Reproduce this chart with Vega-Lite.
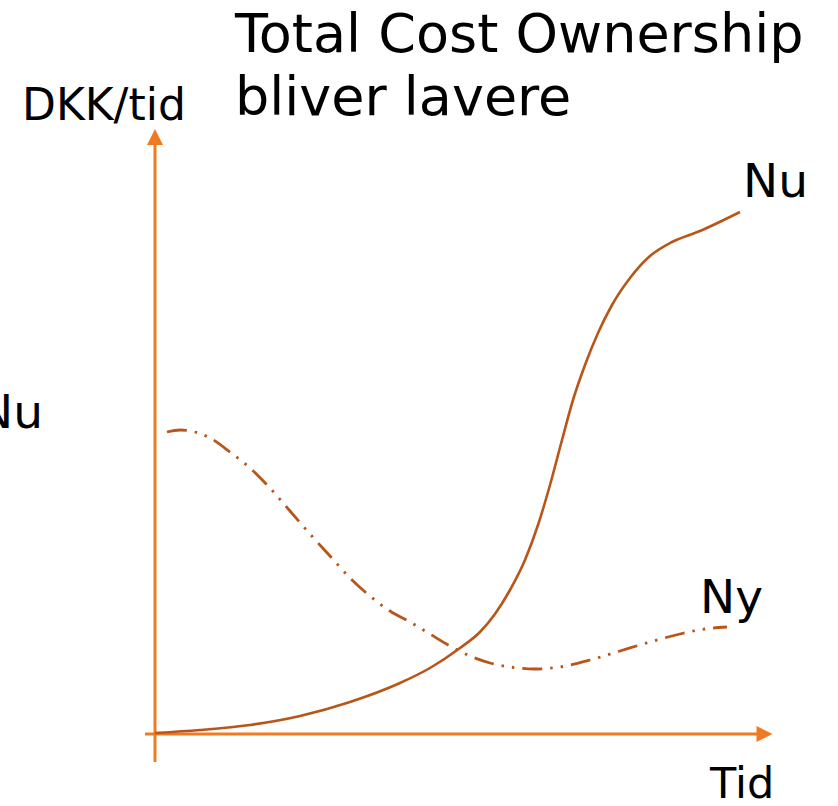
{
  "$schema": "https://vega.github.io/schema/vega-lite/v6.json",
  "width": 838,
  "height": 806,
  "padding": 0,
  "autosize": {"type": "none"},
  "background": "white",
  "config": {"view": {"stroke": null}, "axis": {"disable": true}},
  "datasets": {
    "axes": [
      {"x": 155, "y": 44, "x2": 155, "y2": 664},
      {"x": 145, "y": 72, "x2": 760, "y2": 72}
    ],
    "arrows": [
      {"x": 155, "y": 669, "dir": "up"},
      {"x": 764.5, "y": 72, "dir": "right"}
    ],
    "nu": [
      {"t": 155, "c": 73}, {"t": 200, "c": 76}, {"t": 250, "c": 81}, {"t": 300, "c": 90},
      {"t": 350, "c": 104}, {"t": 400, "c": 123}, {"t": 430, "c": 138}, {"t": 460, "c": 158},
      {"t": 480, "c": 174}, {"t": 495, "c": 192}, {"t": 510, "c": 216}, {"t": 525, "c": 246},
      {"t": 538, "c": 281}, {"t": 550, "c": 321}, {"t": 562, "c": 366}, {"t": 573, "c": 406},
      {"t": 585, "c": 441}, {"t": 598, "c": 473}, {"t": 612, "c": 501}, {"t": 630, "c": 528},
      {"t": 650, "c": 550}, {"t": 672, "c": 564}, {"t": 700, "c": 575}, {"t": 740, "c": 594}
    ],
    "ny": [
      {"t": 167, "c": 374}, {"t": 180, "c": 376}, {"t": 195, "c": 374}, {"t": 210, "c": 368},
      {"t": 230, "c": 354}, {"t": 250, "c": 338}, {"t": 270, "c": 318}, {"t": 290, "c": 295},
      {"t": 310, "c": 272}, {"t": 330, "c": 250}, {"t": 350, "c": 228}, {"t": 370, "c": 210},
      {"t": 390, "c": 195}, {"t": 410, "c": 184}, {"t": 430, "c": 172}, {"t": 450, "c": 160},
      {"t": 470, "c": 150}, {"t": 490, "c": 143}, {"t": 510, "c": 139}, {"t": 535, "c": 137},
      {"t": 560, "c": 139}, {"t": 590, "c": 146}, {"t": 620, "c": 155}, {"t": 650, "c": 164},
      {"t": 680, "c": 172}, {"t": 705, "c": 177}, {"t": 727, "c": 179}
    ],
    "labels": [
      {"x": 235, "y": 754, "text": "Total Cost Ownership", "size": 54},
      {"x": 235, "y": 691, "text": "bliver lavere", "size": 54},
      {"x": 22, "y": 686, "text": "DKK/tid", "size": 44},
      {"x": 743, "y": 609, "text": "Nu", "size": 47},
      {"x": -22, "y": 378, "text": "Nu", "size": 47},
      {"x": 700, "y": 193, "text": "Ny", "size": 47},
      {"x": 710, "y": 8, "text": "Tid", "size": 43}
    ]
  },
  "layer": [
    {
      "data": {"name": "axes"},
      "mark": {"type": "rule", "color": "#F07A22", "strokeWidth": 3},
      "encoding": {
        "x": {"field": "x", "type": "quantitative", "scale": {"domain": [0, 838], "nice": false, "zero": false}},
        "y": {"field": "y", "type": "quantitative", "scale": {"domain": [0, 806], "nice": false, "zero": false}},
        "x2": {"field": "x2"},
        "y2": {"field": "y2"}
      }
    },
    {
      "data": {"name": "arrows"},
      "transform": [{"filter": "datum.dir === 'up'"}],
      "mark": {"type": "point", "shape": "M0,-1L1,1L-1,1Z", "filled": true, "color": "#F07A22", "size": 256, "opacity": 1, "strokeWidth": 0},
      "encoding": {
        "x": {"field": "x", "type": "quantitative"},
        "y": {"field": "y", "type": "quantitative"}
      }
    },
    {
      "data": {"name": "arrows"},
      "transform": [{"filter": "datum.dir === 'right'"}],
      "mark": {"type": "point", "shape": "M1,0L-1,-1L-1,1Z", "filled": true, "color": "#F07A22", "size": 256, "opacity": 1, "strokeWidth": 0},
      "encoding": {
        "x": {"field": "x", "type": "quantitative"},
        "y": {"field": "y", "type": "quantitative"}
      }
    },
    {
      "data": {"name": "nu"},
      "mark": {"type": "line", "color": "#B8561A", "strokeWidth": 2.6, "interpolate": "monotone"},
      "encoding": {
        "x": {"field": "t", "type": "quantitative"},
        "y": {"field": "c", "type": "quantitative"}
      }
    },
    {
      "data": {"name": "ny"},
      "mark": {"type": "line", "color": "#B8561A", "strokeWidth": 2.8, "interpolate": "monotone", "strokeDash": [20, 8, 2.5, 8, 2.5, 8]},
      "encoding": {
        "x": {"field": "t", "type": "quantitative"},
        "y": {"field": "c", "type": "quantitative"}
      }
    },
    {
      "data": {"name": "labels"},
      "mark": {"type": "text", "align": "left", "baseline": "alphabetic", "font": "DejaVu Sans", "color": "black"},
      "encoding": {
        "x": {"field": "x", "type": "quantitative"},
        "y": {"field": "y", "type": "quantitative"},
        "text": {"field": "text"},
        "size": {"field": "size", "type": "quantitative", "scale": null}
      }
    }
  ]
}
